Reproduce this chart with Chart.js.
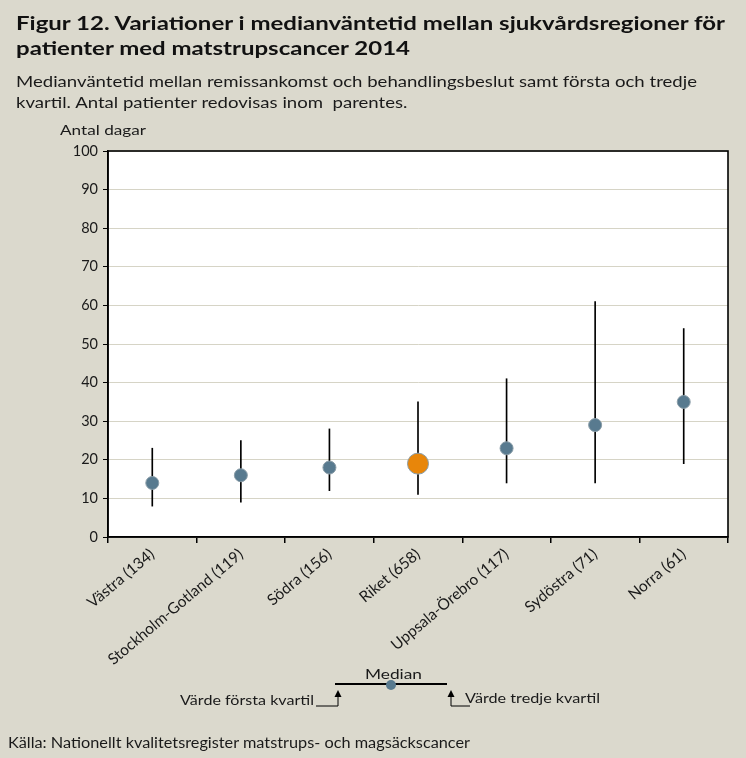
<!DOCTYPE html>
<html>
<head>
<meta charset="utf-8">
<script src="https://cdn.jsdelivr.net/npm/chart.js@4/dist/chart.umd.min.js"></script>
<style>
  html, body { margin:0; padding:0; background:#DBD9CD; }
  body { width:746px; height:758px; position:relative; overflow:hidden; font-family: Lato, "DejaVu Sans", sans-serif; color:#1a1a1a; }
  #c { position:absolute; left:0; top:0; }
  .t { position:absolute; white-space:nowrap; transform-origin:0 50%; }
  .tt { font-weight:bold; font-size:19.5px; color:#111; }
  .st { font-size:15px; }
  .lg { font-size:14px; }
</style>
</head>
<body>
<canvas id="c" width="746" height="758"></canvas>
<div class="t tt" id="t1" data-w="709" style="left:16px;top:11px;">Figur 12. Variationer i medianväntetid mellan sjukvårdsregioner för</div>
<div class="t tt" id="t2" data-same="t1" style="left:16px;top:36px;">patienter med matstrupscancer 2014</div>
<div class="t st" id="s1" data-w="681" style="left:16px;top:72px;">Medianväntetid mellan remissankomst och behandlingsbeslut samt första och tredje</div>
<div class="t st" id="s2" data-same="s1" style="left:16px;top:93px;">kvartil. Antal patienter redovisas inom&nbsp; parentes.</div>
<div class="t lg" data-w="86" style="left:60px;top:121px;">Antal dagar</div>
<div class="t lg" data-w="57" style="left:365px;top:665px;">Median</div>
<div class="t lg" data-w="134" style="left:180px;top:691px;">Värde första kvartil</div>
<div class="t lg" data-w="135" style="left:465px;top:689px;">Värde tredje kvartil</div>
<svg style="position:absolute;left:0;top:0" width="746" height="758">
  <line x1="335" y1="684" x2="447" y2="684" stroke="#000" stroke-width="2"/>
  <circle cx="391" cy="685" r="5" fill="#587A8F"/>
  <polyline points="316,706 338,706 338,695" fill="none" stroke="#000" stroke-width="1"/>
  <polygon points="334.5,697 341.5,697 338,690" fill="#000"/>
  <polyline points="470,706 451,706 451,695" fill="none" stroke="#000" stroke-width="1"/>
  <polygon points="447.5,697 454.5,697 451,690" fill="#000"/>
</svg>
<div class="t" id="src" data-w="462" style="left:8px;top:734px;font-size:14.5px;">Källa: Nationellt kvalitetsregister matstrups- och magsäckscancer</div>
<script>
const categories = ["Västra (134)", "Stockholm-Gotland (119)", "Södra (156)", "Riket (658)", "Uppsala-Örebro (117)", "Sydöstra (71)", "Norra (61)"];
const median = [14, 16, 18, 19, 23, 29, 35];
const q1 = [8, 9, 12, 11, 14, 14, 19];
const q3 = [23, 25, 28, 35, 41, 61, 54];
const yTicks = [0, 10, 20, 30, 40, 50, 60, 70, 80, 90, 100];

// stretch HTML text horizontally to match reference text widths
function fitTexts() {
  const scales = {};
  document.querySelectorAll('.t[data-w]').forEach(el => {
    const w = el.getBoundingClientRect().width;
    const s = parseFloat(el.dataset.w) / w;
    scales[el.id] = s;
    el.style.transform = 'scaleX(' + s + ')';
  });
  document.querySelectorAll('.t[data-same]').forEach(el => {
    el.style.transform = 'scaleX(' + scales[el.dataset.same] + ')';
  });
}
fitTexts();

const pointColors = categories.map(c => c.startsWith("Riket") ? "#E8860A" : "#587A8F");
const pointRadii = categories.map(c => c.startsWith("Riket") ? 10.5 : 6.5);

const framePlugin = {
  id: 'frame',
  beforeDraw(chart) {
    const a = chart.chartArea, ctx = chart.ctx;
    ctx.save(); ctx.fillStyle = '#FFFFFF';
    ctx.fillRect(a.left, a.top, a.right - a.left, a.bottom - a.top);
    ctx.restore();
  },
  afterDraw(chart) {
    const a = chart.chartArea, ctx = chart.ctx;
    ctx.save(); ctx.strokeStyle = '#000'; ctx.lineWidth = 1.6;
    ctx.strokeRect(a.left, a.top, a.right - a.left, a.bottom - a.top);
    ctx.restore();
  }
};

new Chart(document.getElementById('c'), {
  type: 'bar',
  data: {
    labels: categories,
    datasets: [
      {
        type: 'bar',
        data: q1.map((v, i) => [v, q3[i]]),
        backgroundColor: '#000',
        barThickness: 1,
        order: 2
      },
      {
        type: 'line',
        data: median,
        showLine: false,
        pointRadius: pointRadii,
        pointHoverRadius: pointRadii,
        pointBackgroundColor: pointColors,
        pointBorderColor: '#8A9DA8',
        pointBorderWidth: 1,
        order: 1
      }
    ]
  },
  options: {
    responsive: false,
    animation: false,
    devicePixelRatio: 1,
    layout: { padding: { left: 60, top: 151, right: 18, bottom: 0 } },
    plugins: { legend: { display: false }, tooltip: { enabled: false } },
    scales: {
      x: {
        offset: true,
        grid: { offset: true, drawOnChartArea: false, drawTicks: true, tickLength: 6, color: '#000', lineWidth: 1.5 },
        border: { color: '#000', width: 1.6 },
        ticks: { autoSkip: false, minRotation: 40, maxRotation: 40, color: '#1a1a1a', font: { family: 'Lato', size: 15.5 }, padding: 2 },
        afterFit(s) { s.height = 221; }
      },
      y: {
        min: 0, max: 100,
        afterBuildTicks(s) { s.ticks = yTicks.map(v => ({ value: v })); },
        grid: { color: '#D6D4C6', lineWidth: 1, tickLength: 5, tickColor: '#000', drawTicks: true },
        border: { color: '#000', width: 1.6 },
        ticks: { color: '#1a1a1a', font: { family: 'Lato', size: 14.5 }, padding: 5 },
        afterFit(s) { s.width = 48; }
      }
    }
  },
  plugins: [framePlugin]
});
</script>
</body>
</html>
